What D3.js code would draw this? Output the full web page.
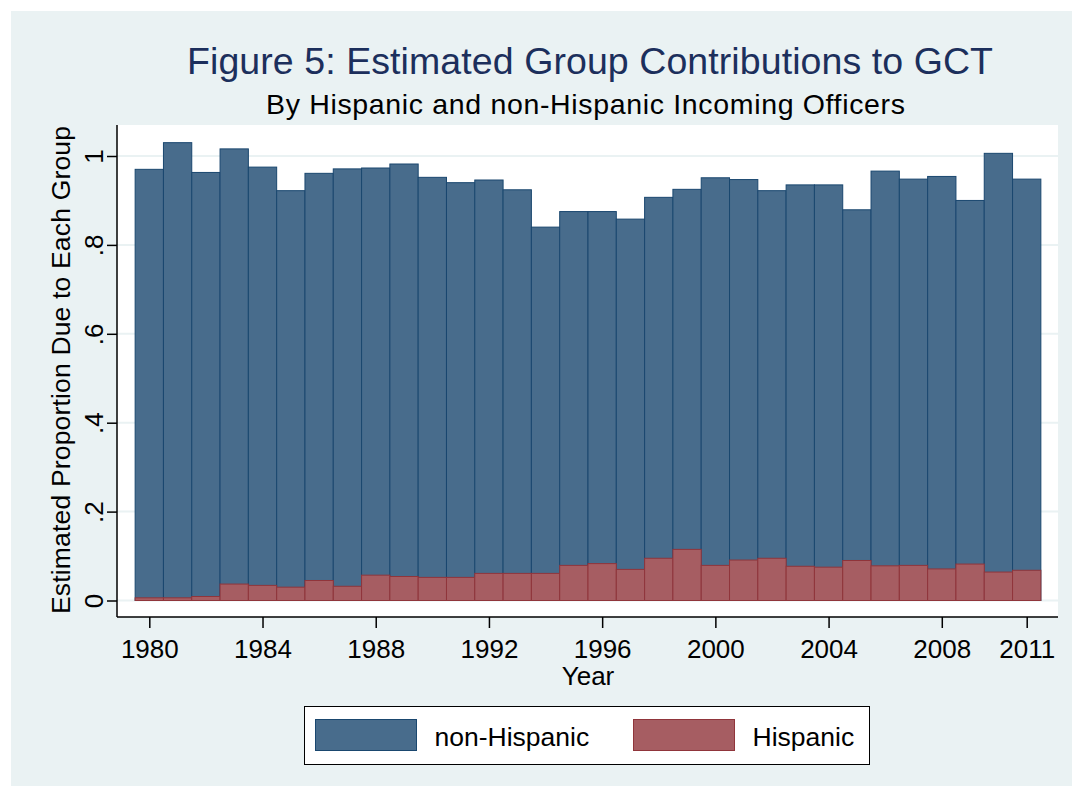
<!DOCTYPE html>
<html>
<head>
<meta charset="utf-8">
<script src="https://cdn.jsdelivr.net/npm/d3@7"></script>
<style>
  body { margin: 0; background: #fff; }
  text { font-family: "Liberation Sans", Arial, sans-serif; }
</style>
</head>
<body>
<svg id="chart" width="1072" height="786"></svg>
<script>
var years = d3.range(1980, 2012);
var nonHispanic = [0.970, 1.030, 0.963, 1.016, 0.975, 0.922, 0.961, 0.971, 0.973, 0.982,
  0.952, 0.940, 0.946, 0.924, 0.840, 0.875, 0.875, 0.858, 0.907, 0.925,
  0.951, 0.947, 0.922, 0.935, 0.935, 0.879, 0.966, 0.948, 0.954, 0.900,
  1.006, 0.948];
var hispanic = [0.006, 0.006, 0.009, 0.037, 0.034, 0.030, 0.045, 0.032, 0.057, 0.054,
  0.052, 0.052, 0.061, 0.061, 0.061, 0.079, 0.083, 0.070, 0.095, 0.115,
  0.079, 0.091, 0.095, 0.077, 0.075, 0.090, 0.078, 0.079, 0.071, 0.082,
  0.064, 0.068];
var xTicks = [1980, 1984, 1988, 1992, 1996, 2000, 2004, 2008, 2011];
var yTicks = [0, 0.2, 0.4, 0.6, 0.8, 1];
var series = ["non-Hispanic", "Hispanic"];

var svg = d3.select("#chart");

var plot = { left: 117, right: 1058, top: 125, bottom: 617 };

var x = d3.scaleLinear().domain([1980, 2011]).range([149.3, 1026.7]);
var y = d3.scaleLinear().domain([0, 1]).range([600.5, 156]);

var fill = { "non-Hispanic": "#486c8c", "Hispanic": "#a65d62" };
var stroke = { "non-Hispanic": "#1a476f", "Hispanic": "#90353b" };

var yFmt = v => v === 0 ? "0" : v === 1 ? "1" : d3.format(".1f")(v).replace(/^0/, "");

// background
svg.append("rect").attr("x", 11).attr("y", 11).attr("width", 1061).attr("height", 775)
  .attr("fill", "#eaf2f3");
svg.append("rect").attr("x", plot.left).attr("y", plot.top)
  .attr("width", plot.right - plot.left).attr("height", plot.bottom - plot.top)
  .attr("fill", "#fff");

// gridlines
svg.append("g").selectAll("line").data(yTicks).join("line")
  .attr("x1", plot.left).attr("x2", plot.right)
  .attr("y1", d => y(d)).attr("y2", d => y(d))
  .attr("stroke", "#eaf2f3").attr("stroke-width", 2);

function bars(name, vals) {
  svg.append("g").selectAll("rect").data(years).join("rect")
    .attr("x", d => x(d - 0.5))
    .attr("width", d => x(d + 0.5) - x(d - 0.5))
    .attr("y", (d, i) => y(vals[i]))
    .attr("height", (d, i) => y(0) - y(vals[i]))
    .attr("fill", fill[name])
    .attr("stroke", stroke[name])
    .attr("stroke-width", 1);
}
bars("non-Hispanic", nonHispanic);
bars("Hispanic", hispanic);

// axes
var yAxis = svg.append("g")
  .attr("transform", "translate(" + plot.left + ",0)")
  .call(d3.axisLeft(y).tickValues(yTicks).tickSize(10).tickFormat(yFmt));
yAxis.select(".domain").attr("d", "M0," + plot.top + "V" + plot.bottom);
yAxis.selectAll(".tick text")
  .attr("x", 0).attr("y", 0).attr("dy", 0)
  .attr("text-anchor", "middle")
  .attr("transform", "translate(-14,0) rotate(-90)")
  .attr("font-size", 26).attr("fill", "#000");

var xAxis = svg.append("g")
  .attr("transform", "translate(0," + plot.bottom + ")")
  .call(d3.axisBottom(x).tickValues(xTicks).tickSize(11).tickFormat(d3.format("d")));
xAxis.select(".domain").attr("d", "M" + plot.left + ",0H" + plot.right);
xAxis.selectAll(".tick text").attr("y", 41).attr("dy", 0)
  .attr("font-size", 26).attr("fill", "#000");

svg.selectAll(".domain, .tick line").attr("stroke", "#000").attr("stroke-width", 1.5);

// titles
svg.append("text").attr("x", 187).attr("y", 74)
  .attr("font-size", 37.5).attr("fill", "#1c2f5c")
  .attr("textLength", 806).attr("lengthAdjust", "spacing")
  .text("Figure 5: Estimated Group Contributions to GCT");
svg.append("text").attr("x", 266).attr("y", 113.5)
  .attr("font-size", 28.5).attr("fill", "#000")
  .attr("textLength", 639).attr("lengthAdjust", "spacing")
  .text("By Hispanic and non-Hispanic Incoming Officers");
svg.append("text").attr("x", 588).attr("y", 685).attr("text-anchor", "middle")
  .attr("font-size", 26).text("Year");
svg.append("text").attr("transform", "translate(70,370) rotate(-90)")
  .attr("text-anchor", "middle").attr("font-size", 26.5)
  .attr("textLength", 488).attr("lengthAdjust", "spacing")
  .text("Estimated Proportion Due to Each Group");

// legend
var lg = svg.append("g");
lg.append("rect").attr("x", 304.5).attr("y", 706.5).attr("width", 565).attr("height", 58)
  .attr("fill", "#fff").attr("stroke", "#000").attr("stroke-width", 1);
var lx = [315.5, 633.5];
series.forEach(function (s, i) {
  lg.append("rect").attr("x", lx[i]).attr("y", 719.5).attr("width", 101).attr("height", 31)
    .attr("fill", fill[s]).attr("stroke", stroke[s]).attr("stroke-width", 1);
  lg.append("text").attr("x", lx[i] + 119).attr("y", 745.5)
    .attr("font-size", 26.5).text(s);
});
</script>
</body>
</html>
